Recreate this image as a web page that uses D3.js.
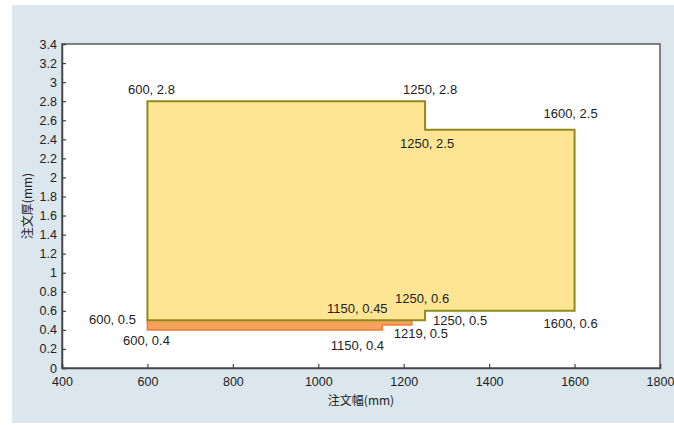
<!DOCTYPE html>
<html><head><meta charset="utf-8">
<script src="https://cdn.jsdelivr.net/npm/d3@7"></script>
<style>body{margin:0;background:#fff}text{font-family:"Liberation Sans",Arial,sans-serif}</style>
</head><body><svg id="c" width="674" height="425"></svg>
<script>
// data
const xTicks = [400, 600, 800, 1000, 1200, 1400, 1600, 1800];
const yTicks = [0,0.2,0.4,0.6,0.8,1,1.2,1.4,1.6,1.8,2,2.2,2.4,2.6,2.8,3,3.2,3.4];
const xTitle = "注文幅(mm)";
const yTitle = "注文厚(mm)";
const yellowX = [600, 600, 1250, 1250, 1600, 1600, 1250, 1250];
const yellowY = [0.5, 2.8, 2.8, 2.5, 2.5, 0.6, 0.6, 0.5];
const orangeX = [600, 600, 1219, 1219, 1150, 1150];
const orangeY = [0.4, 0.5, 0.5, 0.45, 0.45, 0.4];
const labelX = [600, 1250, 1600, 1250, 600, 600, 1150, 1250, 1250, 1219, 1150, 1600];
const labelY = [2.8, 2.8, 2.5, 2.5, 0.5, 0.4, 0.45, 0.6, 0.5, 0.5, 0.4, 0.6];
// layout (pixel offsets of each label from its point)
const labelDx = [4, 5, -4, 2, -35, -1, -25, -3, 35, 9, -25, -4];
const labelDy = [-7, -7, -12, 18, 4, 15, -12, -8, 5, 18, 20, 17];

const svg = d3.select("#c");
svg.append("rect").attr("x",12).attr("y",5).attr("width",662).attr("height",418).attr("fill","#dce6ed");
const L=62,R=660,T=44,B=368;
const x = d3.scaleLinear().domain([400,1800]).range([L,R]);
const y = d3.scaleLinear().domain([0,3.4]).range([B,T]);
svg.append("rect").attr("x",L).attr("y",T).attr("width",R-L).attr("height",B-T).attr("fill","#fff");

const line = d3.line().x(d=>x(d[0])).y(d=>y(d[1]));
const yellow = yellowX.map((v,i)=>[v,yellowY[i]]);
const orange = orangeX.map((v,i)=>[v,orangeY[i]]);
svg.append("path").attr("d", line(orange)+"Z").attr("fill","#f5a35c").attr("stroke","#ef7a3a").attr("stroke-width",1.5);
svg.append("path").attr("d", line(yellow)+"Z").attr("fill","#fde594").attr("stroke","#8e8a1e").attr("stroke-width",2).attr("stroke-linejoin","miter");

// frame
svg.append("rect").attr("x",L).attr("y",T).attr("width",R-L).attr("height",B-T).attr("fill","none").attr("stroke","#5a5a5a").attr("stroke-width",1.5);

const xAxis = d3.axisBottom(x).tickValues(xTicks).tickSize(-4).tickPadding(9).tickFormat(d3.format("d"));
const gx = svg.append("g").attr("transform",`translate(0,${B})`).call(xAxis);
const yAxis = d3.axisLeft(y).tickValues(yTicks).tickSize(-4).tickPadding(5).tickFormat(d=>String(+d.toFixed(1)));
const gy = svg.append("g").attr("transform",`translate(${L},0)`).call(yAxis);
[gx,gy].forEach(g=>{
  g.select(".domain").attr("stroke","#444").attr("stroke-width",1.5);
  g.selectAll(".tick line").attr("stroke","#444").attr("stroke-width",1.2);
  g.selectAll("text").attr("fill","#222").style("font-size","12.5px").style("font-family","'Liberation Sans',Arial,sans-serif");
});

svg.append("text").attr("x",(L+R)/2).attr("y",405).attr("text-anchor","middle")
  .style("font-family","'Noto Sans CJK JP',sans-serif").style("font-size","12px").attr("fill","#222").text(xTitle);
svg.append("text").attr("transform",`translate(32,${(T+B)/2}) rotate(-90)`).attr("text-anchor","middle")
  .style("font-family","'Noto Sans CJK JP',sans-serif").style("font-size","12px").attr("fill","#222").text(yTitle);

labelX.forEach((v,i)=>{
  svg.append("text").attr("x",x(v)+labelDx[i]).attr("y",y(labelY[i])+labelDy[i])
    .attr("text-anchor","middle").style("font-size","13px").attr("fill","#222")
    .text(`${v}, ${labelY[i]}`);
});
</script></body></html>
